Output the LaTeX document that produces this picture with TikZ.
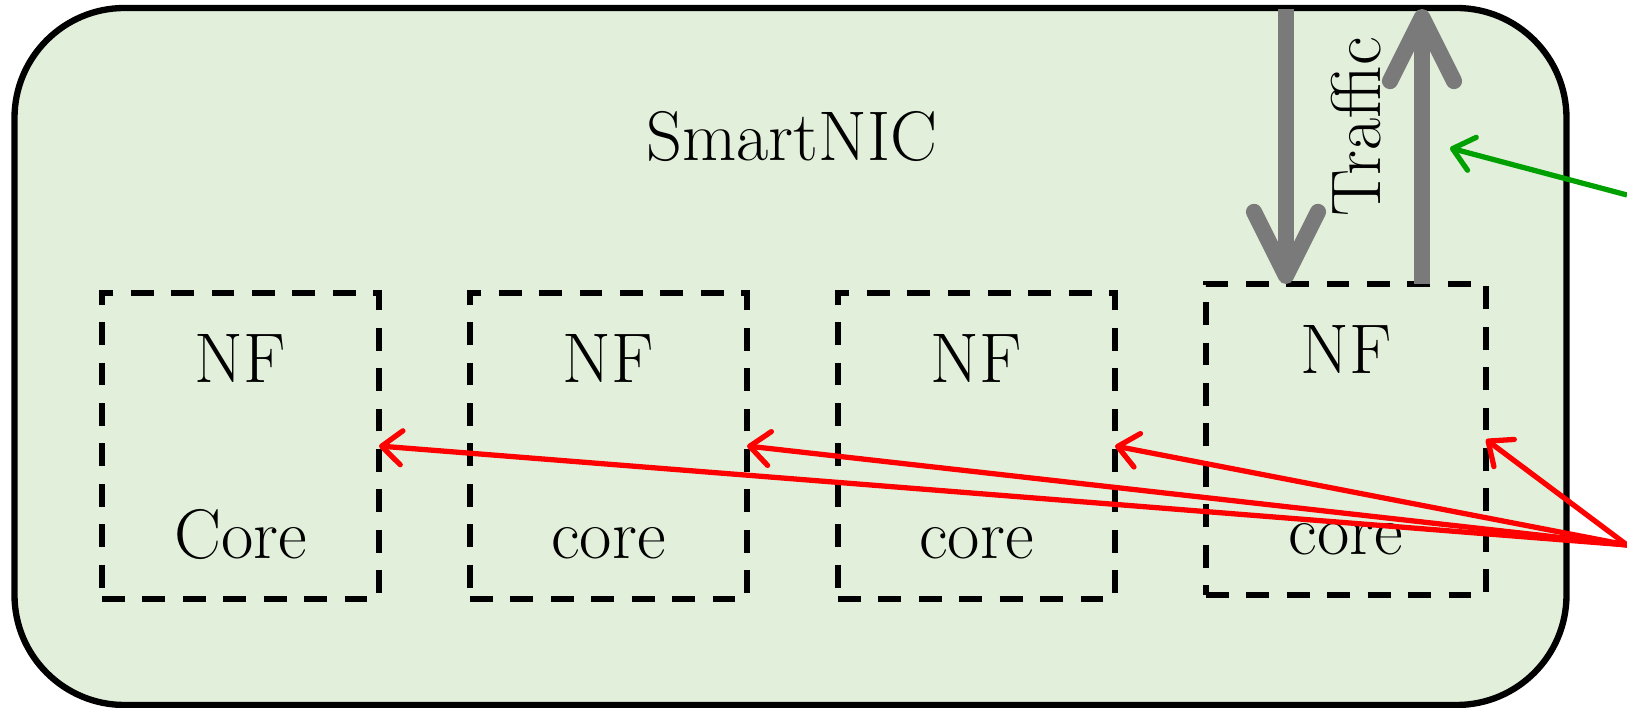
\documentclass[tikz,border=0pt]{standalone}
\usepackage{xcolor}
\usepackage{tikz}
\usetikzlibrary{arrows.meta,positioning,calc}

\definecolor{nicgreen}{RGB}{226,239,218}
\definecolor{trafficgray}{RGB}{122,122,122}
\definecolor{hintgreen}{RGB}{0,160,0}

\begin{document}
\begin{tikzpicture}[
  font=\fontsize{20}{24}\selectfont,
  nic/.style={draw,line width=1.8pt,rounded corners=1.1cm,fill=nicgreen,minimum width=15.52cm,minimum height=6.97cm},
  nfbox/.style={draw,line width=1.6pt,dash pattern=on 6.5pt off 5pt,minimum width=2.77cm,minimum height=3.06cm,outer sep=0pt},
  traffic/.style={trafficgray,line width=4.6pt,-{Straight Barb[round,length=0.64cm,width=0.64cm]}},
  hint/.style={hintgreen,line width=1.5pt,-{Straight Barb[round,length=0.2cm,width=0.34cm]}},
  pin/.style={red,line width=1.5pt,-{Straight Barb[round,length=0.2cm,width=0.34cm]}}
]
\clip (0,0) rectangle (16.27,-7.08);
\node[nic] (nic) at (7.905,-3.565) {};
\node[anchor=base] (title) at (7.92,-1.61) {SmartNIC};

\node[nfbox] (nf1) at (2.405,-4.46) {};
\node[nfbox,right=0.91cm of nf1] (nf2) {};
\node[nfbox,right=0.91cm of nf2] (nf3) {};
\node[nfbox,right=0.91cm of nf3,yshift=0.065cm,minimum width=2.8cm,minimum height=3.11cm] (nf4) {};

\node[anchor=base] (nf1name) at ($(nf1.north)+(0,-0.90)$) {NF};
\node[anchor=base] (nf1core) at ($(nf1.south)+(0,0.40)$) {Core};
\node[anchor=base] (nf2name) at ($(nf2.north)+(0,-0.90)$) {NF};
\node[anchor=base] (nf2core) at ($(nf2.south)+(0,0.40)$) {core};
\node[anchor=base] (nf3name) at ($(nf3.north)+(0,-0.90)$) {NF};
\node[anchor=base] (nf3core) at ($(nf3.south)+(0,0.40)$) {core};
\node[anchor=base] (nf4name) at ($(nf4.north)+(0,-0.90)$) {NF};
\node[anchor=base] (nf4core) at ($(nf4.south)+(0,0.40)$) {core};

% traffic in and out of the NIC
\coordinate (trafin) at (12.86,-0.09);
\coordinate (trafout) at (14.22,-0.09);
\draw[traffic] (trafin) -- (trafin |- nf4.north);
\draw[traffic] (trafout |- nf4.north) -- (trafout);
\node[rotate=90,anchor=base] (traflabel) at (13.80,-1.27) {Traffic};

% pointers from outside
\coordinate (hintfrom) at (16.27,-1.95);
\coordinate (hintto) at (14.50,-1.48);
\draw[hint] (hintfrom) -- (hintto);
\coordinate (corefrom) at (16.27,-5.45);
\draw[pin] (corefrom) -- (nf1.east);
\draw[pin] (corefrom) -- (nf2.east);
\draw[pin] (corefrom) -- (nf3.east);
\draw[pin] (corefrom) -- (nf4.east);
\end{tikzpicture}
\end{document}
